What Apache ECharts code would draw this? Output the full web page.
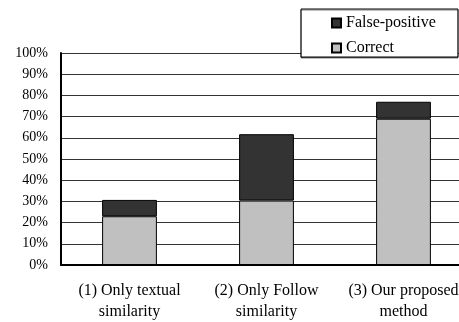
<!DOCTYPE html>
<html>
<head>
<meta charset="utf-8">
<script src="https://cdn.jsdelivr.net/npm/echarts@6/dist/echarts.min.js"></script>
<style>html,body{margin:0;padding:0;background:#fff;overflow:hidden}#c{width:472px;height:322px}</style>
</head>
<body>
<div id="c"></div>
<script>
const categories = ['(1) Only textual\nsimilarity', '(2) Only Follow\nsimilarity', '(3) Our proposed\nmethod'];
const correct = [23, 30.4, 69];
const falsePositive = [7.7, 31.3, 8];
const seriesNames = ['False-positive', 'Correct'];

const FONT = '"Liberation Serif", "DejaVu Serif", serif';
const chart = echarts.init(document.getElementById('c'), null, {renderer: 'canvas'});
chart.setOption({
  animation: false,
  backgroundColor: '#fff',
  grid: {left: 61, top: 53, bottom: 52, right: 0, containLabel: false},
  graphic: [{
    type: 'rect', z: 10,
    shape: {x: 301, y: 9, width: 157, height: 48},
    style: {fill: '#fff', stroke: '#000', lineWidth: 1, shadowColor: 'rgba(0,0,0,0.5)', shadowOffsetY: 1, shadowOffsetX: 0, shadowBlur: 0}
  }],
  legend: {
    z: 20,
    orient: 'vertical',
    left: 331, top: 15, padding: 0,
    itemWidth: 9, itemHeight: 9, itemGap: 9,
    icon: 'rect',
    data: seriesNames,
    textStyle: {fontFamily: FONT, fontSize: 16, color: '#000', lineHeight: 16}
  },
  xAxis: {
    type: 'category',
    data: categories,
    axisLine: {lineStyle: {color: '#000', width: 2}},
    axisTick: {inside: true, length: 6, lineStyle: {color: '#000', width: 1}},
    axisLabel: {fontFamily: FONT, fontSize: 16, color: '#000', lineHeight: 21, margin: 15, interval: 0}
  },
  yAxis: {
    type: 'value', min: 0, max: 100, interval: 10,
    axisLine: {show: true, lineStyle: {color: '#000', width: 2}},
    axisTick: {show: false},
    splitLine: {lineStyle: {color: '#333', width: 1}},
    axisLabel: {formatter: '{value}%', fontFamily: FONT, fontSize: 14, color: '#000', margin: 13}
  },
  series: [
    {name: 'Correct', type: 'bar', stack: 's', data: correct, barCategoryGap: '60%',
     itemStyle: {color: '#c0c0c0', borderColor: '#000', borderWidth: 1}},
    {name: 'False-positive', type: 'bar', stack: 's', data: falsePositive, barCategoryGap: '60%',
     itemStyle: {color: '#333333', borderColor: '#000', borderWidth: 1}}
  ]
});
</script>
</body>
</html>
